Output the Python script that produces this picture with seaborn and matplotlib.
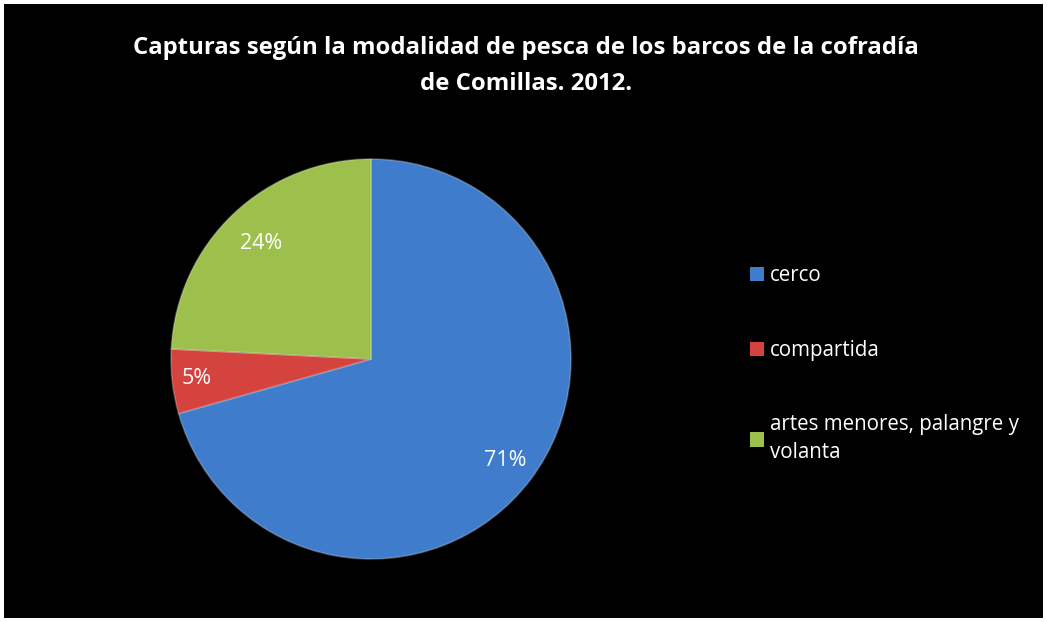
import matplotlib
matplotlib.use("Agg")
import matplotlib.pyplot as plt
import matplotlib.patches as mpatches
import seaborn as sns
import numpy as np

categories = ["cerco", "compartida", "artes menores, palangre y\nvolanta"]
shares = [70.6, 5.2, 24.2]
title = "Capturas según la modalidad de pesca de los barcos de la cofradía\nde Comillas. 2012."

sns.set_style("dark")
plt.rcParams["font.family"] = ["Open Sans", "DejaVu Sans"]
colors = sns.color_palette(["#3F7CCB", "#D5433E", "#9DC04C"])

fig = plt.figure(figsize=(10.47, 6.22), dpi=100, facecolor="white")
# black chart area inside thin white frame
fig.patches.append(mpatches.Rectangle((4 / 1047, 4 / 622), 1039 / 1047, 614 / 622,
                                      transform=fig.transFigure, facecolor="black",
                                      edgecolor="none", zorder=-5))

ax = fig.add_axes([171 / 1047, 63 / 622, 400 / 1047, 400 / 622])
ax.patch.set_alpha(0)
wedges, texts, autotexts = ax.pie(shares, colors=colors, startangle=90, counterclock=False,
                                  radius=1.0, autopct="%.0f%%", pctdistance=0.83,
                                  textprops=dict(color="white", fontsize=15.5),
                                  wedgeprops=dict(edgecolor=(1, 1, 1, 0.25), linewidth=1.2))
ax.set_xlim(-1, 1)
ax.set_ylim(-1, 1)
ax.axis("off")

# small slice label sits a bit further out
dists = [0.84, 0.875, 0.80]
for w, t, d in zip(wedges, autotexts, dists):
    ang = np.deg2rad((w.theta1 + w.theta2) / 2)
    t.set_position((d * np.cos(ang), d * np.sin(ang)))

fig.text(0.502, 1 - 66 / 622, title, ha="center", va="center", color="white",
         fontsize=17.2, fontweight="bold", linespacing=1.65)

handles = [mpatches.Patch(facecolor=c, edgecolor="none") for c in colors]
leg = fig.legend(handles, categories, loc="upper left",
                 bbox_to_anchor=(731 / 1047, 1 - 247 / 622),
                 frameon=False, fontsize=14.8, labelcolor="white",
                 handlelength=0.7, handleheight=0.7, handletextpad=0.3,
                 labelspacing=2.6)
for t in leg.get_texts():
    t.set_linespacing(1.4)

fig.savefig("out.png", dpi=100, facecolor="white")
